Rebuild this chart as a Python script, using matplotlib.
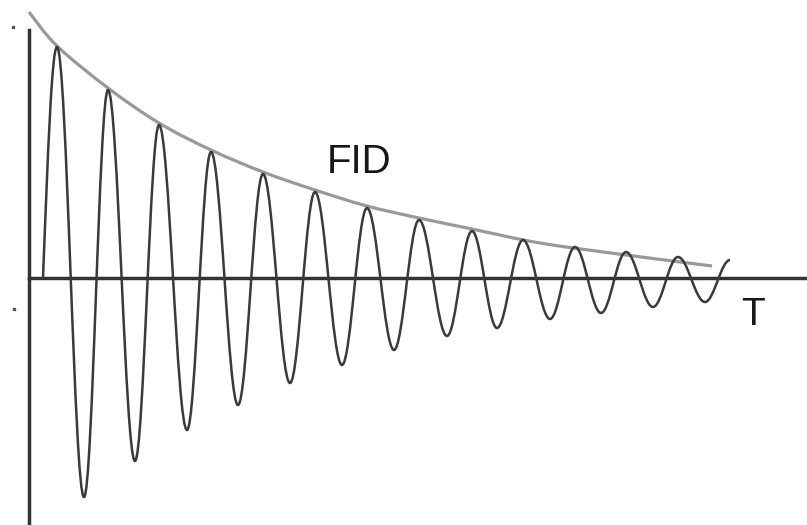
import matplotlib
matplotlib.use("Agg")
import matplotlib.pyplot as plt
from matplotlib.path import Path
from matplotlib.patches import PathPatch

# signal (time in arbitrary units, amplitude in arbitrary units)
start_t, start_amp = 1.4, 0
peak_t = [2.8, 7.9, 13.0, 18.2, 23.4, 28.6, 33.8, 39.0, 44.3, 49.4, 54.6, 59.7, 64.9]
peak_amp = [231, 188, 153, 126, 104, 86, 70, 58, 47, 38, 31, 26, 21]
trough_t = [5.5, 10.6, 15.8, 20.9, 26.1, 31.3, 36.5, 41.8, 46.8, 52.1, 57.2, 62.4, 67.6]
trough_amp = [-219, -183, -152, -127, -105, -87, -72, -58, -50, -41, -35, -29, -24]
end_t, end_amp = 70.1, 18

# decay envelope
env_t = [0, 2.8, 7.9, 13.0, 18.2, 23.4, 28.6, 33.8, 39.0, 44.3, 51.1, 59.7, 68.3]
env_amp = [266, 232, 190, 155, 128, 106, 88, 72, 60, 49, 35, 23, 12]

wave_color = '#3a3a3a'
env_color = '#999999'
axis_color = '#333333'

fig = plt.figure(figsize=(8.07, 5.25), dpi=100)
ax = fig.add_axes([0, 0, 1, 1])
ax.set_xlim(-2.9, 77.8)
ax.set_ylim(-247, 278)

# extrema in order: start -> peak -> trough -> ... -> end
ext_t = [start_t]
ext_amp = [start_amp]
for pt, pa, tt, ta in zip(peak_t, peak_amp, trough_t, trough_amp):
    ext_t += [pt, tt]
    ext_amp += [pa, ta]
ext_t.append(end_t)
ext_amp.append(end_amp)

# each half cycle drawn as a cubic bezier with flat tangents at the extrema
k = 0.3634
verts = [(ext_t[0], ext_amp[0])]
codes = [Path.MOVETO]
for i in range(1, len(ext_t)):
    t0, a0 = ext_t[i - 1], ext_amp[i - 1]
    t1, a1 = ext_t[i], ext_amp[i]
    dt = t1 - t0
    if i == 1:
        # rising from zero: quarter wave
        c1 = (t0 + dt * 0.35, a0 + (a1 - a0) * 0.55)
    else:
        c1 = (t0 + k * dt, a0)
    c2 = (t1 - k * dt, a1)
    verts += [c1, c2, (t1, a1)]
    codes += [Path.CURVE4] * 3
ax.add_patch(PathPatch(Path(verts, codes), fill=False, edgecolor=wave_color,
                       lw=1.8, zorder=3))

# envelope as catmull-rom style smooth curve
ev = [(env_t[0], env_amp[0])]
ec = [Path.MOVETO]
n = len(env_t)
for i in range(n - 1):
    p0 = (env_t[max(i - 1, 0)], env_amp[max(i - 1, 0)])
    p1 = (env_t[i], env_amp[i])
    p2 = (env_t[i + 1], env_amp[i + 1])
    p3 = (env_t[min(i + 2, n - 1)], env_amp[min(i + 2, n - 1)])
    c1 = (p1[0] + (p2[0] - p0[0]) / 6, p1[1] + (p2[1] - p0[1]) / 6)
    c2 = (p2[0] - (p3[0] - p1[0]) / 6, p2[1] - (p3[1] - p1[1]) / 6)
    ev += [c1, c2, p2]
    ec += [Path.CURVE4] * 3
ax.add_patch(PathPatch(Path(ev, ec), fill=False, edgecolor=env_color,
                       lw=2.3, zorder=2))

# axes through the origin
for side in ['top', 'right']:
    ax.spines[side].set_visible(False)
ax.spines['left'].set_position(('data', 0))
ax.spines['bottom'].set_position(('data', 0))
ax.spines['left'].set_bounds(-245, 248)
ax.spines['bottom'].set_bounds(0, 77.8)
for side in ['left', 'bottom']:
    ax.spines[side].set_linewidth(2.5)
    ax.spines[side].set_color(axis_color)
ax.set_xticks([])
ax.set_yticks([])
ax.patch.set_alpha(0)

ax.text(29.8, 105, 'FID', fontsize=29, family='Liberation Sans', color='#161616',
        ha='left', va='baseline')
ax.text(71.2, -47, 'T', fontsize=28, family='Liberation Sans', color='#161616',
        ha='left', va='baseline')

# small specks left of the vertical axis
ax.plot([-1.6, -1.5], [251, -31], ls='none', marker='s', ms=1.6, color='#555555')

fig.savefig('out.png', dpi=100, facecolor='white')
